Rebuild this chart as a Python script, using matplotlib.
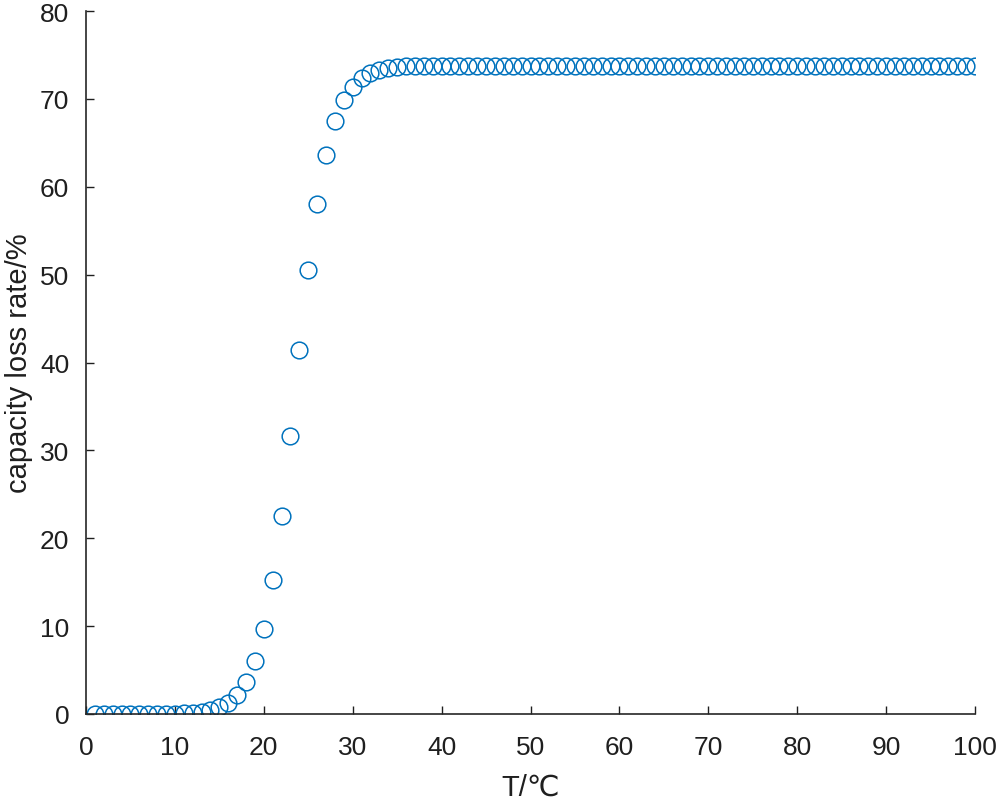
import matplotlib
matplotlib.use('Agg')
import matplotlib.pyplot as plt
from matplotlib.ticker import MultipleLocator

# ---- data ----
temp = list(range(1, 101))
loss_rate = [
    0.0, 0.0, 0.0, 0.0, 0.0, 0.0, 0.0, 0.0, 0.0, 0.05,
    0.1, 0.15, 0.25, 0.45, 0.85, 1.3, 2.2, 3.6, 6.0, 9.7,
    15.2, 22.5, 31.6, 41.4, 50.5, 58.0, 63.6, 67.5, 69.9, 71.4,
    72.4, 72.9, 73.3, 73.5, 73.6, 73.7, 73.7, 73.7, 73.7, 73.7,
    73.7, 73.7, 73.7, 73.7, 73.7, 73.7, 73.7, 73.7, 73.7, 73.7,
    73.7, 73.7, 73.7, 73.7, 73.7, 73.7, 73.7, 73.7, 73.7, 73.7,
    73.7, 73.7, 73.7, 73.7, 73.7, 73.7, 73.7, 73.7, 73.7, 73.7,
    73.7, 73.7, 73.7, 73.7, 73.7, 73.7, 73.7, 73.7, 73.7, 73.7,
    73.7, 73.7, 73.7, 73.7, 73.7, 73.7, 73.7, 73.7, 73.7, 73.7,
    73.7, 73.7, 73.7, 73.7, 73.7, 73.7, 73.7, 73.7, 73.7, 73.7,
]

marker_color = '#0072BD'
text_color = '#1f1f1f'
font_list = ['Liberation Sans', 'DejaVu Sans']
plt.rcParams['font.family'] = font_list

fig = plt.figure(figsize=(10, 8.03), dpi=100)
ax = fig.add_axes([0.086, 0.1096, 0.889, 0.8754])

ax.plot(temp, loss_rate, linestyle='none', marker='o', markersize=12,
        markerfacecolor='none', markeredgecolor=marker_color, markeredgewidth=1.1)

ax.set_xlim(0, 100)
ax.set_ylim(0, 80)
ax.xaxis.set_major_locator(MultipleLocator(10))
ax.yaxis.set_major_locator(MultipleLocator(10))

ax.spines['top'].set_visible(False)
ax.spines['right'].set_visible(False)
for side in ['left', 'bottom']:
    ax.spines[side].set_linewidth(1.2)
    ax.spines[side].set_color('#262626')
ax.tick_params(axis='both', which='major', direction='in', length=6, width=1.0,
               labelsize=19, colors=text_color)
ax.tick_params(axis='x', pad=15)
ax.tick_params(axis='y', pad=12)

ax.set_xlabel('T/℃', fontsize=21, color=text_color, labelpad=10)
ax.set_ylabel('capacity loss rate/%', fontsize=21, color=text_color, labelpad=5)

fig.savefig('out.png', dpi=100)
